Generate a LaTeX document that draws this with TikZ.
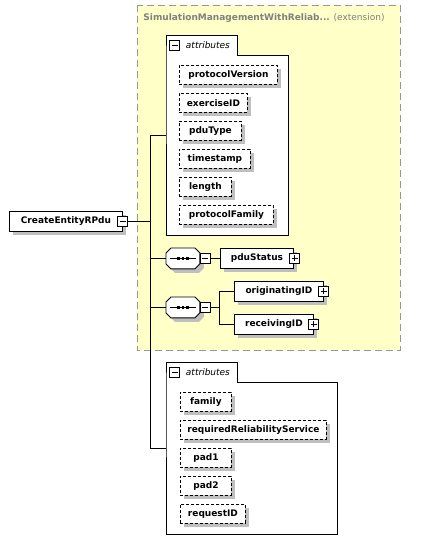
\documentclass[tikz,border=0pt]{standalone}
\usepackage{fontspec}
\setmainfont{DejaVu Sans}
\usepackage{tikz}
\usetikzlibrary{calc,positioning,shadows}
\definecolor{extfill}{RGB}{255,255,200}
\definecolor{extline}{RGB}{150,150,150}
\definecolor{exttext}{RGB}{128,128,128}
\newcommand{\elemfont}{\fontsize{9}{11}\selectfont\bfseries}
\newcommand{\tabfont}{\fontsize{9}{11}\selectfont\itshape}
\tikzset{
  boxshadow/.style={
    drop shadow={shadow xshift=4pt, shadow yshift=-4pt, fill=black!25, opacity=1}},
  extbox/.style={
    draw=extline,
    fill=extfill,
    dash pattern=on 7pt off 4pt},
  element/.style={
    rectangle,
    draw=black,
    fill=white,
    font=\elemfont,
    minimum height=20pt,
    inner sep=0pt,
    anchor=north west,
    boxshadow},
  attrib/.style={
    element,
    dash pattern=on 3pt off 2pt,
    minimum width=#1,
    minimum height=19pt},
  grouppart/.style={
    rectangle,
    fill=white,
    inner sep=0pt,
    anchor=north west},
  togglebox/.style={
    rectangle,
    draw=black,
    fill=white,
    minimum size=10pt,
    inner sep=0pt},
  minusbox/.style={
    togglebox,
    path picture={\draw ([xshift=2pt]path picture bounding box.west) -- ([xshift=-2pt]path picture bounding box.east);}},
  plusbox/.style={
    togglebox,
    path picture={\draw ([xshift=2pt]path picture bounding box.west) -- ([xshift=-2pt]path picture bounding box.east);
                  \draw ([yshift=-2pt]path picture bounding box.north) -- ([yshift=2pt]path picture bounding box.south);}},
  sequence/.style={
    rectangle,
    minimum width=33pt,
    minimum height=20pt,
    inner sep=0pt,
    anchor=north west},
  octagon/.style={
    draw=black,
    fill=white,
    boxshadow},
}
\begin{document}
\begin{tikzpicture}[x=1pt, y=-1pt, line width=0.9pt]
		\useasboundingbox (0,0) rectangle (441,552);

		% extension base
		\draw[extbox] (137,5) rectangle (400,350);
		\node[anchor=west, text=exttext, font=\fontsize{9}{11}\selectfont, inner sep=0pt] (exttitle) at (143,18) {\textbf{SimulationManagementWithReliab...} (extension)};

		% root element
		\node[element, minimum width=113pt] (root) at (9,211) {CreateEntityRPdu};
		\node[minusbox] (rootpm) at (root.east) {};

		% inherited attributes
		\node[grouppart, minimum width=122pt, minimum height=180pt] (grpA) at (166,55) {};
		\node[grouppart, anchor=south west, minimum width=71pt, minimum height=19pt, font=\tabfont] (grpAtab) at (grpA.north west) {\hspace{12pt}attributes};
		\draw (grpAtab.south west) |- (grpAtab.north east) |- (grpA.north east) |- (grpA.south west) -- cycle;
		\node[minusbox] (grpApm) at ([xshift=8.5pt]grpAtab.west) {};

		\node[attrib=98pt] (protver) at (179,65) {protocolVersion};
		\node[attrib=68pt] (exerid) at (179,93) {exerciseID};
		\node[attrib=62pt] (pdutype) at (179,121) {pduType};
		\node[attrib=71pt] (tstamp) at (179,149) {timestamp};
		\node[attrib=52pt] (len) at (179,177) {length};
		\node[attrib=94pt] (protfam) at (179,205) {protocolFamily};

		% sequences
		\node[sequence] (seqa) at (166,248) {};
		\node[sequence] (seqb) at (166,297) {};
		\foreach \s in {seqa,seqb} {
			\draw[octagon] ([xshift=5pt]\s.north west) -- ([xshift=-5pt]\s.north east) -- ([yshift=-5pt]\s.north east)
				-- ([yshift=5pt]\s.south east) -- ([xshift=-5pt]\s.south east) -- ([xshift=5pt]\s.south west)
				-- ([yshift=5pt]\s.south west) -- ([yshift=-5pt]\s.north west) -- cycle;
			\draw[line width=0.8pt] ([xshift=4pt]\s.west) -- ([xshift=-4pt]\s.east);
			\foreach \d in {-4.5,0,4.5}
				\fill ([xshift=\d pt-1.3pt, yshift=-1.3pt]\s.center) rectangle ([xshift=\d pt+1.3pt, yshift=1.3pt]\s.center);
		}

		\node[minusbox, right=0pt of seqa] (seqapm) {};
		\node[element, minimum width=73pt] (pdustatus) at (220,248) {pduStatus};
		\node[plusbox] (pdustatuspm) at ([xshift=1pt]pdustatus.east) {};

		\node[minusbox, right=0pt of seqb] (seqbpm) {};
		\node[element, minimum width=89pt] (origid) at (234,281) {originatingID};
		\node[plusbox] (origidpm) at (origid.east) {};
		\node[element, minimum width=79pt] (recvid) at (234,314) {receivingID};
		\node[plusbox] (recvidpm) at (recvid.east) {};

		% own attributes
		\node[grouppart, minimum width=171pt, minimum height=152pt] (grpB) at (166,382) {};
		\node[grouppart, anchor=south west, minimum width=71pt, minimum height=19pt, font=\tabfont] (grpBtab) at (grpB.north west) {\hspace{12pt}attributes};
		\draw (grpBtab.south west) |- (grpBtab.north east) |- (grpB.north east) |- (grpB.south west) -- cycle;
		\node[minusbox] (grpBpm) at ([xshift=8.5pt]grpBtab.west) {};

		\node[attrib=51pt] (family) at (180,392) {family};
		\node[attrib=146pt] (reqrel) at (180,420) {requiredReliabilityService};
		\node[attrib=51pt] (padone) at (180,448) {pad1};
		\node[attrib=51pt] (padtwo) at (180,476) {pad2};
		\node[attrib=65pt] (reqid) at (180,504) {requestID};

		% connectors
		\coordinate (grpAmid) at ($(grpAtab.north west)!.5!(grpA.south west)$);
		\coordinate (grpBmid) at ($(grpBtab.north west)!.5!(grpB.south west)$);
		\coordinate (bus) at (150,0);
		\draw (grpAmid -| bus) -- (grpBmid -| bus);
		\draw (grpAmid -| bus) -- (grpAmid);
		\draw (grpBmid -| bus) -- (grpBmid);
		\draw (rootpm.east) -- (rootpm.east -| bus);
		\draw (seqa.west -| bus) -- (seqa.west);
		\draw (seqb.west -| bus) -- (seqb.west);
		\draw (seqapm.east) -- (pdustatus.west);
		\coordinate (fork) at ([xshift=9pt]seqbpm.east);
		\draw (seqbpm.east) -- (fork);
		\draw (origid.west) -| (fork) |- (recvid.west);

	\end{tikzpicture}
\end{document}
